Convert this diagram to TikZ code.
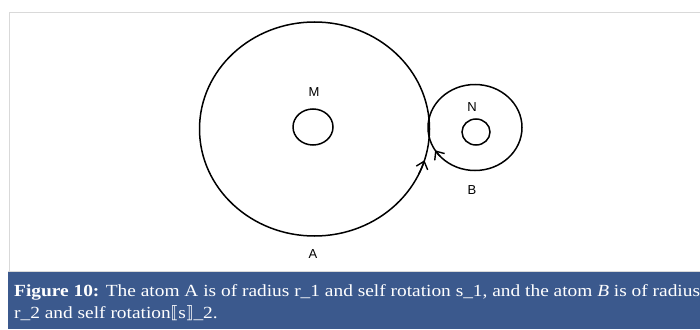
\documentclass[tikz,border=0pt]{standalone}
\usepackage{fontspec}
\setmainfont{Liberation Serif}[FakeStretch=1.14]
\newfontfamily\labfont{Liberation Sans}
\newfontfamily\symfont{DejaVu Sans}[FakeStretch=0.9]
\usetikzlibrary{arrows.meta,calc}
\definecolor{capblue}{RGB}{59,89,141}
\definecolor{frameg}{RGB}{217,217,217}
\tikzset{
  ring/.style={line width=1.5pt, draw=black},
  lab/.style={font=\labfont\fontsize{13}{14}\selectfont, inner sep=0pt},
  captxt/.style={font=\fontsize{17}{19}\selectfont, text=white, inner sep=0pt, anchor=base west},
  barb/.style={line width=1.4pt, -{Straight Barb[length=7pt,width=12pt]}}
}
\begin{document}
\begin{tikzpicture}[x=1pt,y=-1pt]
\path[use as bounding box] (0,0) rectangle (700,329);
% frame
\draw[frameg, line width=1pt] (9,271) -- (9,13) -- (701,13);
\fill[capblue] (8,272) rectangle (700,329);
\draw[frameg, line width=0.8pt] (8,271.5) -- (700,271.5);
% circles
\coordinate (cA) at (314.5,129);
\coordinate (cB) at (475,127.5);
\draw[ring] (cA) ellipse [x radius=115, y radius=107];
\draw[ring] (313,127) ellipse [x radius=20, y radius=18];
\draw[ring] (cB) ellipse [x radius=47, y radius=43];
\draw[ring] (476,132) ellipse [x radius=14, y radius=13];
% arrows
\draw[barb] ($(cA)+(25:115 and 107)$) arc [start angle=25, end angle=17, x radius=115, y radius=107];
\draw[barb] ($(cB)+(138:47 and 43)$) arc [start angle=138, end angle=148, x radius=47, y radius=43];
% labels
\node[lab] (M) at (314,92.5) {M};
\node[lab] (N) at (472,107.5) {N};
\node[lab] (B) at (472,190) {B};
\node[lab] (A) at (313,254) {A};
% caption
\node[captxt] (c1) at (14,296) {\textbf{Figure 10:} The atom A is of radius r\_1 and self rotation s\_1, and the atom \textit{B} is of radius};
\node[captxt] (c2) at (14,318) {r\_2 and self rotation{\symfont ⟦}s{\symfont ⟧}\_2.};
\end{tikzpicture}
\end{document}
